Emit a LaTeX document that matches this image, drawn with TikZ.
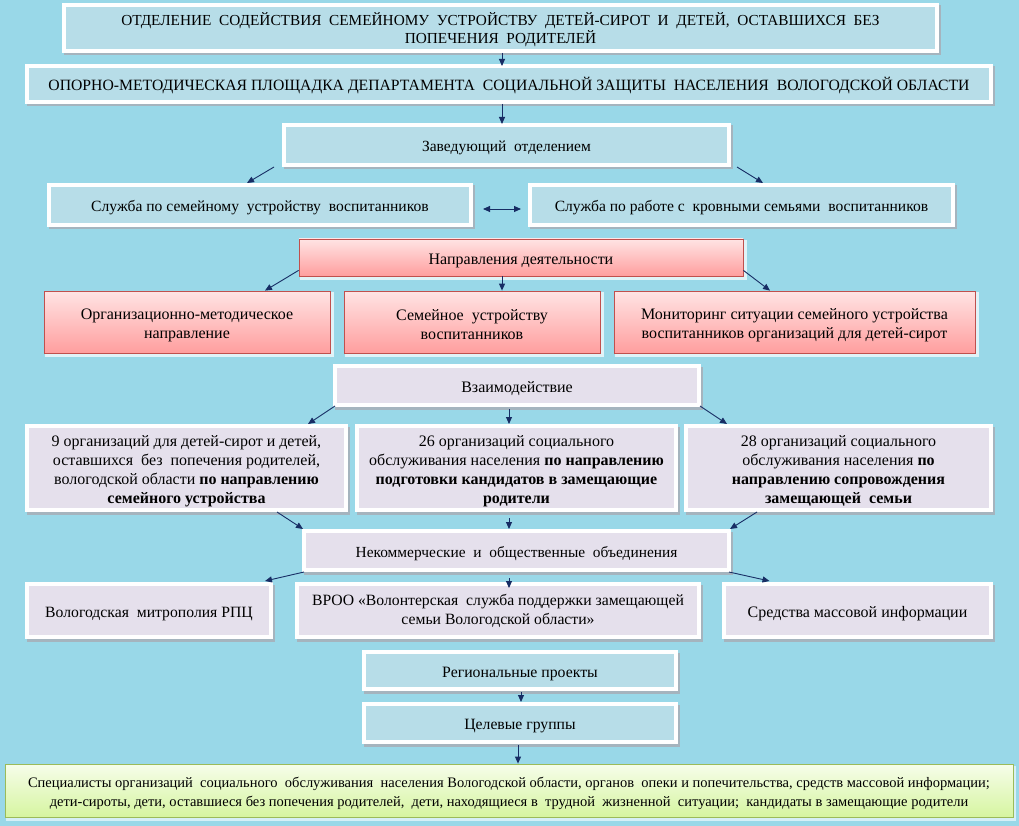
\documentclass[tikz,border=0pt]{standalone}
\usepackage{fontspec}
\setmainfont{Liberation Serif}
\usetikzlibrary{arrows.meta,shadows}
\definecolor{bg}{RGB}{153,216,232}
\definecolor{boxblue}{RGB}{183,221,232}
\definecolor{lav}{RGB}{229,224,236}
\definecolor{pinktop}{RGB}{255,228,228}
\definecolor{pinkbot}{RGB}{255,158,158}
\definecolor{pinkline}{RGB}{192,80,77}
\definecolor{greentop}{RGB}{246,253,234}
\definecolor{greenbot}{RGB}{214,245,160}
\definecolor{greenline}{RGB}{155,187,89}
\definecolor{arrc}{RGB}{23,45,100}
\definecolor{shadowc}{RGB}{165,180,190}
\newcommand\fsz[2]{\fontsize{#1}{#2}\selectfont}
\newcommand\dropstrut{\rule{0pt}{16.5pt}}
\tikzset{
  wbox/.style={rectangle, draw=white, line width=4pt, inner sep=1pt, align=center,
    font=\fsz{16}{19}, execute at begin node=\dropstrut,
    drop shadow={shadow xshift=1.5pt, shadow yshift=-2.5pt, fill=shadowc, draw=shadowc, line width=4pt, opacity=1}},
  bluebox/.style={wbox, fill=boxblue},
  lavbox/.style={wbox, fill=lav},
  pinkbox/.style={rectangle, draw=pinkline, line width=0.8pt, top color=pinktop, bottom color=pinkbot,
    inner sep=1pt, align=center, font=\fsz{16}{19}, execute at begin node=\dropstrut,
    drop shadow={shadow xshift=2pt, shadow yshift=-2.5pt, fill=white!70!bg, draw=white!70!bg, line width=3pt, opacity=1}},
  greenbox/.style={rectangle, draw=greenline, line width=0.8pt, top color=greentop, bottom color=greenbot,
    inner sep=1pt, align=center, font=\fsz{14.5}{19}, execute at begin node=\dropstrut,
    drop shadow={shadow xshift=2pt, shadow yshift=-2.5pt, fill=white!60!bg, draw=white!60!bg, line width=2pt, opacity=1}},
  arr/.style={draw=arrc, line width=0.9pt, -{Triangle[length=7pt,width=6pt]}},
  darr/.style={draw=arrc, line width=0.9pt, {Triangle[length=7pt,width=6pt]}-{Triangle[length=7pt,width=6pt]}},
}
\begin{document}
\begin{tikzpicture}[x=1pt,y=-1pt]
\fill[bg] (0,0) rectangle (1019,826);
\useasboundingbox (0,0) rectangle (1019,826);

\node[bluebox, minimum width=873pt, minimum height=46pt, font=\fsz{15.3}{18}] (t1) at (500.5,28)
  {\dropstrut ОТДЕЛЕНИЕ\ \ СОДЕЙСТВИЯ\ \ СЕМЕЙНОМУ\ \ УСТРОЙСТВУ\ \ ДЕТЕЙ-СИРОТ\ \ И\ \ ДЕТЕЙ,\ \ ОСТАВШИХСЯ\ \ БЕЗ\\ ПОПЕЧЕНИЯ\ \ РОДИТЕЛЕЙ};
\node[bluebox, minimum width=964pt, minimum height=36pt, font=\fsz{15.7}{18}] (t2) at (509,84)
  {ОПОРНО-МЕТОДИЧЕСКАЯ ПЛОЩАДКА ДЕПАРТАМЕНТА\ \ СОЦИАЛЬНОЙ ЗАЩИТЫ\ \ НАСЕЛЕНИЯ\ \ ВОЛОГОДСКОЙ ОБЛАСТИ};
\node[bluebox, minimum width=445pt, minimum height=40pt, font=\fsz{15.5}{18}] (zav) at (506.5,145) {Заведующий\ \ отделением};
\node[bluebox, minimum width=422pt, minimum height=40pt, font=\fsz{15.6}{18}] (s1) at (260,205) {Служба по семейному\ \ устройству\ \ воспитанников};
\node[bluebox, minimum width=423pt, minimum height=40pt, font=\fsz{15.6}{18}] (s2) at (741.5,205) {Служба по работе с\ \ кровными семьями\ \ воспитанников};

\node[pinkbox, minimum width=444pt, minimum height=37pt] (napr) at (521,257.5) {Направления деятельности};
\node[pinkbox, minimum width=286pt, minimum height=62pt] (o1) at (187,322) {\dropstrut Организационно-методическое\\ направление};
\node[pinkbox, minimum width=256pt, minimum height=62pt] (o2) at (472,322) {\dropstrut Семейное\ \ устройству\\ воспитанников};
\node[pinkbox, minimum width=361pt, minimum height=62pt] (o3) at (794.5,322) {\dropstrut Мониторинг ситуации семейного устройства\\ воспитанников организаций для детей-сирот};

\node[lavbox, minimum width=364pt, minimum height=39pt] (vz) at (517,385.5) {Взаимодействие};
\node[lavbox, minimum width=319pt, minimum height=84pt] (g1) at (186.5,468)
  {\dropstrut 9 организаций для детей-сирот и детей,\\ оставшихся\ \ без\ \ попечения родителей,\\ вологодской области \textbf{по направлению}\\ \textbf{семейного устройства}};
\node[lavbox, minimum width=319pt, minimum height=84pt] (g2) at (516.5,468)
  {\dropstrut 26 организаций социального\\ обслуживания населения \textbf{по направлению}\\ \textbf{подготовки кандидатов в замещающие}\\ \textbf{родители}};
\node[lavbox, minimum width=305pt, minimum height=84pt] (g3) at (838.5,468)
  {\dropstrut 28 организаций социального\\ обслуживания населения \textbf{по}\\ \textbf{направлению сопровождения}\\ \textbf{замещающей\ \ семьи}};

\node[lavbox, minimum width=425pt, minimum height=39pt, font=\fsz{15.4}{18}] (nek) at (516.5,550.5) {Некоммерческие\ \ и\ \ общественные\ \ объединения};
\node[lavbox, minimum width=244pt, minimum height=53pt, font=\fsz{15.7}{19}] (m1) at (149,610.5) {Вологодская\ \ митрополия РПЦ};
\node[lavbox, minimum width=402pt, minimum height=53pt, font=\fsz{15.7}{19}] (m2) at (498,610.5) {ВРОО «Волонтерская\ \ служба поддержки замещающей\\ семьи Вологодской области»};
\node[lavbox, minimum width=267pt, minimum height=53pt] (m3) at (857.5,610.5) {Средства массовой информации};

\node[bluebox, minimum width=312pt, minimum height=37pt, font=\fsz{15.8}{18}] (reg) at (520,670.5) {Региональные проекты};
\node[bluebox, minimum width=312pt, minimum height=38pt, font=\fsz{15.7}{18}] (cel) at (520,723) {Целевые группы};

\node[greenbox, minimum width=1008pt, minimum height=53pt] (bot) at (509,790.5)
  {\dropstrut Специалисты организаций\ \ социального\ \ обслуживания\ \ населения Вологодской области, органов\ \ опеки и попечительства, средств массовой информации;\\
   дети-сироты, дети, оставшиеся без попечения родителей,\ \ дети, находящиеся в\ \ трудной\ \ жизненной\ \ ситуации;\ \ кандидаты в замещающие родители};

% connectors
\draw[arr] ([xshift=1.5pt]t1.south) -- ([xshift=-7pt,yshift=-2pt]t2.north);
\draw[arr] ([xshift=-7pt]t2.south) -- ([xshift=-4.5pt,yshift=-1pt]zav.north);
\draw[arr] ([xshift=-8pt]zav.south west) -- ([xshift=-13pt]s1.north);
\draw[arr] ([xshift=6pt]zav.south east) -- ([xshift=21.5pt]s2.north);
\draw[darr] ([xshift=10pt,yshift=-4pt]s1.east) -- ([xshift=-7pt,yshift=-4pt]s2.west);
\draw[arr] ([yshift=6pt]napr.south west) -- ([xshift=78pt]o1.north);
\draw[arr] ([xshift=-19pt]napr.south) -- ([xshift=30pt]o2.north);
\draw[arr] ([yshift=6pt]napr.south east) -- ([xshift=-24.5pt]o3.north);
\draw[arr] ([xshift=2pt,yshift=1pt]vz.south west) -- ([xshift=121.5pt]g1.north);
\draw[arr] ([xshift=-8pt,yshift=-2pt]vz.south) -- ([xshift=-7.5pt]g2.north);
\draw[arr] ([xshift=-1pt,yshift=1pt]vz.south east) -- ([xshift=-111.5pt]g3.north);
\draw[arr] ([xshift=90.5pt]g1.south) -- ([xshift=1pt]nek.north west);
\draw[arr] ([xshift=-7.5pt,yshift=-6pt]g2.south) -- ([xshift=-7.5pt]nek.north);
\draw[arr] ([xshift=-81.5pt]g3.south) -- ([xshift=-1pt]nek.north east);
\draw[arr] ([xshift=2pt]nek.south west) -- ([xshift=-8pt,yshift=1pt]m1.north east);
\draw[arr] ([xshift=-7.5pt,yshift=-6pt]nek.south) -- ([xshift=11pt,yshift=-6pt]m2.north);
\draw[arr] ([xshift=-2pt]nek.south east) -- ([xshift=47.5pt,yshift=1pt]m3.north west);
\draw[arr] ([xshift=1pt,yshift=-1pt]reg.south) -- ([xshift=1pt]cel.north);
\draw[arr] ([xshift=-2pt,yshift=-1pt]cel.south) -- ([xshift=9pt]bot.north);
\end{tikzpicture}
\end{document}
